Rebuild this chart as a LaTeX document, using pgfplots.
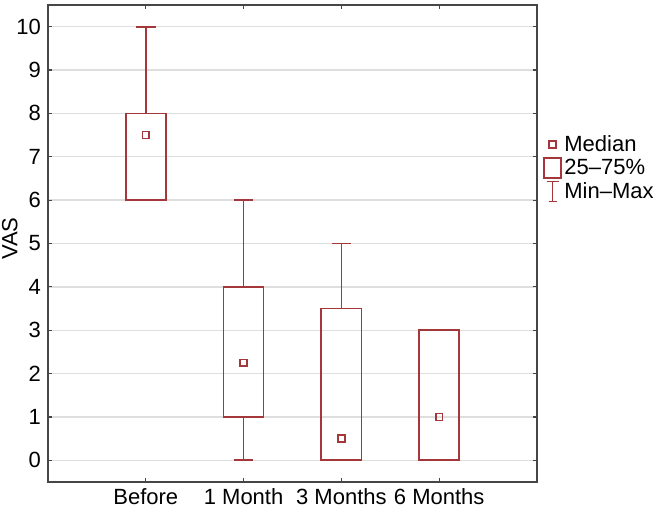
\documentclass[border=0pt]{standalone}
\usepackage{fontspec}
\setmainfont{Liberation Sans}
\usepackage{pgfplots}
\pgfplotsset{compat=1.18}
\usepgfplotslibrary{statistics}
\definecolor{boxred}{RGB}{163,55,58}
\definecolor{framegray}{RGB}{70,70,70}
\definecolor{gridgray}{RGB}{222,222,222}
\begin{document}
\begin{tikzpicture}
\useasboundingbox (-24pt,-13pt) rectangle (306.5pt,241pt);
\begin{axis}[
  at={(0,0)}, anchor=south west,
  scale only axis,
  width=244.5pt, height=238.5pt,
  xmin=0, xmax=5, ymin=-0.5, ymax=10.5,
  xtick={1,2,3,4},
  xticklabels={Before,1 Month,3 Months,6 Months},
  ytick={0,1,...,10},
  font=\fontsize{11}{12.5}\selectfont,
  tick label style={font=\fontsize{11}{12.5}\selectfont},
  /pgf/number format/assume math mode=true,
  ylabel={VAS},
  ylabel style={font=\fontsize{11}{12.5}\selectfont, at={(axis description cs:-0.078,0.51)}, anchor=center},
  ymajorgrids,
  major grid style={gridgray, line width=0.7pt},
  axis line style={framegray, line width=0.7pt},
  major tick style={framegray, line width=0.6pt},
  major tick length=2pt,
  tick align=inside,
  xtick pos=both, ytick pos=both,
  boxplot/draw direction=y,
  boxplot/box extend=0.41,
  boxplot/whisker extend=0.2,
  boxplot/draw/median/.code={},
  legend style={draw=none, fill=none, at={(1,0.658)}, anchor=west, xshift=3pt,
    font=\fontsize{11}{12.5}\selectfont, row sep=0pt, inner sep=0pt,
    nodes={inner sep=1.2pt}},
  legend cell align=left,
]
\addplot[boxred, line width=0.85pt, forget plot, boxplot prepared={draw position=1,
  lower whisker=6, lower quartile=6, median=7.5, upper quartile=8, upper whisker=10}]
  coordinates {};
\addplot[boxred, line width=0.85pt, forget plot, boxplot prepared={draw position=2,
  lower whisker=0, lower quartile=1, median=2.25, upper quartile=4, upper whisker=6}]
  coordinates {};
\addplot[boxred, line width=0.85pt, forget plot, boxplot prepared={draw position=3,
  lower whisker=0, lower quartile=0, median=0.5, upper quartile=3.5, upper whisker=5}]
  coordinates {};
\addplot[boxred, line width=0.85pt, forget plot, boxplot prepared={draw position=4,
  lower whisker=0, lower quartile=0, median=1, upper quartile=3, upper whisker=3}]
  coordinates {};
\addplot[boxred, only marks, mark=square, mark size=1.7pt, mark options={line width=0.8pt}, forget plot]
  coordinates {(1,7.5) (2,2.25) (3,0.5) (4,1)};
\addlegendimage{boxred, legend image code/.code={
  \draw[boxred, line width=0.8pt] (2.55pt,-1.7pt) rectangle (5.95pt,1.7pt);
  \path[draw=none, fill=none] (0pt,-5.5pt) rectangle (8.5pt,5.5pt);}}
\addlegendentry{Median}
\addlegendimage{boxred, legend image code/.code={
  \draw[boxred, line width=0.8pt, fill=none] (0pt,-5pt) rectangle (8.5pt,5pt);
  \path[draw=none, fill=none] (0pt,-5.5pt) rectangle (8.5pt,5.5pt);}}
\addlegendentry{25--75\%}
\addlegendimage{boxred, legend image code/.code={
  \draw[boxred, line width=0.8pt] (1.2pt,5pt) -- (7.3pt,5pt)
     (4.25pt,5pt) -- (4.25pt,-5pt) (2.2pt,-5pt) -- (6.3pt,-5pt);
  \path[draw=none, fill=none] (0pt,-5.5pt) rectangle (8.5pt,5.5pt);}}
\addlegendentry{Min--Max}
\end{axis}
\end{tikzpicture}
\end{document}
